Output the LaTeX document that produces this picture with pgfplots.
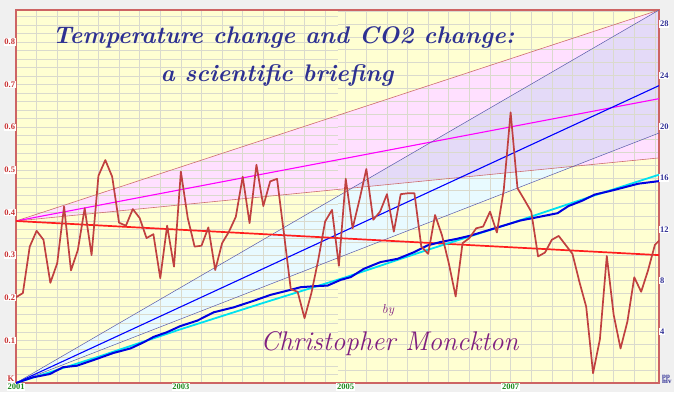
\documentclass[border=0pt]{standalone}
\usepackage{pgfplots}
\pgfplotsset{compat=1.18}
\usepackage{pgfplotstable}
\usepackage{fontspec}
\newfontfamily\tickfont{Liberation Serif}

\definecolor{bggray}{RGB}{240,240,240}
\definecolor{bgyellow}{RGB}{255,255,210}
\definecolor{pinkfill}{RGB}{255,224,255}
\definecolor{cyanfill}{RGB}{232,250,255}
\definecolor{lavfill}{RGB}{228,218,248}
\definecolor{framecol}{RGB}{205,100,100}
\definecolor{gridcol}{RGB}{218,218,205}
\definecolor{gridmaj}{RGB}{200,200,190}
\definecolor{tempcol}{RGB}{192,64,64}
\definecolor{redtrend}{RGB}{255,30,30}
\definecolor{pinkedge}{RGB}{205,110,110}
\definecolor{magentaL}{RGB}{255,0,255}
\definecolor{navythin}{RGB}{90,90,170}
\definecolor{bluemid}{RGB}{0,0,255}
\definecolor{bluedata}{RGB}{0,0,225}
\definecolor{cyanline}{RGB}{0,225,240}
\definecolor{titlecol}{RGB}{46,49,146}
\definecolor{purp}{RGB}{128,32,128}
\definecolor{ylab}{RGB}{200,50,50}
\definecolor{rlab}{RGB}{48,48,150}
\definecolor{xlab}{RGB}{30,140,30}

\pgfplotstableread{
i K
0 0.201
1 0.211
2 0.320
3 0.357
4 0.336
5 0.235
6 0.281
7 0.414
8 0.264
9 0.312
10 0.410
11 0.300
12 0.486
13 0.523
14 0.484
15 0.376
16 0.369
17 0.408
18 0.387
19 0.340
20 0.349
21 0.246
22 0.369
23 0.273
24 0.496
25 0.387
26 0.320
27 0.322
28 0.365
29 0.265
30 0.328
31 0.355
32 0.390
33 0.484
34 0.375
35 0.512
36 0.415
37 0.473
38 0.479
39 0.351
40 0.220
41 0.214
42 0.152
43 0.211
44 0.289
45 0.379
46 0.406
47 0.275
48 0.479
49 0.363
50 0.430
51 0.502
52 0.383
53 0.402
54 0.443
55 0.355
56 0.443
57 0.445
58 0.445
59 0.320
60 0.303
61 0.394
62 0.347
63 0.281
64 0.203
65 0.328
66 0.340
67 0.363
68 0.367
69 0.402
70 0.353
71 0.453
72 0.635
73 0.457
74 0.430
75 0.402
76 0.297
77 0.306
78 0.336
79 0.345
80 0.324
81 0.303
82 0.238
83 0.179
84 0.023
85 0.103
86 0.298
87 0.160
88 0.081
89 0.144
90 0.248
91 0.214
92 0.264
93 0.324
94 0.340
}\tempdata

\pgfplotstableread{
t p
2001.00 0.00
2001.21 0.45
2001.41 0.70
2001.57 1.23
2001.74 1.35
2001.98 1.88
2002.18 2.34
2002.39 2.70
2002.55 3.18
2002.67 3.60
2002.83 3.96
2002.99 4.43
2003.20 4.87
2003.40 5.52
2003.64 5.90
2003.89 6.43
2004.09 6.88
2004.29 7.20
2004.45 7.47
2004.61 7.55
2004.78 7.60
2004.94 8.05
2005.06 8.26
2005.22 8.91
2005.42 9.43
2005.63 9.69
2005.83 10.21
2005.99 10.73
2006.15 11.00
2006.35 11.25
2006.52 11.51
2006.72 11.90
2006.92 12.29
2007.12 12.68
2007.33 12.94
2007.57 13.25
2007.70 13.80
2007.86 14.20
2008.02 14.70
2008.22 15.00
2008.40 15.30
2008.55 15.55
2008.80 15.75
}\bluedat

\pgfplotstableread{
t p
2001.0 0.00
2002.0 2.05
2003.0 4.20
2004.0 6.25
2005.0 8.25
2006.0 10.40
2007.0 12.45
2008.0 14.60
2008.8 16.25
}\cyandat

\tikzset{tl/.style={font=\tickfont\bfseries\fontsize{8.5}{9}\selectfont, inner sep=0.8pt, fill=white}}
\pgfplotsset{
  base/.style={at={(16pt,9pt)}, anchor=south west, scale only axis,
    width=643pt, height=373pt, xmin=2001, xmax=2008.8, ymin=0, ymax=0.875},
}
\newcommand\titfont{\bfseries\itshape}

\begin{document}
\begin{tikzpicture}
\useasboundingbox (0,0) rectangle (674pt,392pt);
\fill[bggray] (0,0) rectangle (674pt,392pt);

% background and fills
\begin{axis}[base, axis background/.style={fill=bgyellow}, axis line style={draw=none},
  xtick=\empty, ytick=\empty]
\addplot[fill=pinkfill, draw=none] coordinates {(2001,0.38) (2008.8,0.875) (2008.8,0.528)};
\addplot[fill=cyanfill, draw=none, y filter/.expression={y*0.030069}]
  coordinates {(2001,0) (2008.8,29.1) (2008.8,19.5)};
\addplot[fill=lavfill, draw=none]
  coordinates {(2005.077,0.4574) (2007.763,0.5083) (2008.8,0.5863) (2008.8,0.875)};
\end{axis}

% vertical grid
\begin{axis}[base, axis line style={draw=none}, ytick=\empty,
  xtick={2001,2001.25,...,2008.76}, xticklabels={}, major tick length=0pt,
  xmajorgrids, major grid style={gridcol, line width=0.6pt}]
\addplot[draw=none] coordinates {(2001,0)};
\end{axis}

% left half horizontal grid (K)
\begin{axis}[at={(16pt,9pt)}, anchor=south west, scale only axis, width=321.5pt, height=373pt,
  xmin=0, xmax=1, ymin=0, ymax=0.875, axis line style={draw=none}, xtick=\empty,
  ytick={0,0.02,...,0.87}, yticklabels={}, major tick length=0pt,
  ymajorgrids, major grid style={gridcol, line width=0.6pt},
  extra y ticks={0.1,0.2,0.3,0.4,0.5,0.6,0.7,0.8}, extra y tick labels={},
  extra y tick style={grid style={gridmaj, line width=0.7pt}}]
\addplot[draw=none] coordinates {(0,0)};
\end{axis}

% right half horizontal grid (ppmv)
\begin{axis}[at={(337.5pt,9pt)}, anchor=south west, scale only axis, width=321.5pt, height=373pt,
  xmin=0, xmax=1, ymin=0, ymax=29.1, axis line style={draw=none}, xtick=\empty,
  ytick={0,1,...,29}, yticklabels={}, major tick length=0pt,
  ymajorgrids, major grid style={gridcol, line width=0.6pt},
  extra y ticks={4,8,12,16,20,24,28}, extra y tick labels={},
  extra y tick style={grid style={gridmaj, line width=0.7pt}}]
\addplot[draw=none] coordinates {(0,0)};
\end{axis}

% main axis with lines
\begin{axis}[base, axis line style={draw=framecol, line width=1.5pt},
  xtick={2001,2003,2005,2007}, xticklabels={2001,2003,2005,2007},
  ytick={0.1,0.2,0.3,0.4,0.5,0.6,0.7,0.8},
  yticklabels={0.1,0.2,0.3,0.4,0.5,0.6,0.7,0.8},
  major tick length=0pt, tick style={draw=none},
  xticklabel style={tl, text=xlab},
  yticklabel style={tl, text=ylab}]
\addplot[pinkedge, line width=0.6pt] coordinates {(2001,0.38) (2008.8,0.875)};
\addplot[pinkedge, line width=0.6pt] coordinates {(2001,0.38) (2008.8,0.528)};
\addplot[magentaL, line width=1.1pt] coordinates {(2001,0.38) (2008.8,0.667)};
\addplot[navythin, line width=0.5pt, y filter/.expression={y*0.030069}] coordinates {(2001,0) (2008.8,29.1)};
\addplot[navythin, line width=0.5pt, y filter/.expression={y*0.030069}] coordinates {(2001,0) (2008.8,19.5)};
\addplot[bluemid, line width=1.1pt, y filter/.expression={y*0.030069}] coordinates {(2001,0) (2008.8,23.2)};
\addplot[redtrend, line width=1.7pt] coordinates {(2001,0.38) (2008.8,0.30)};
\addplot[cyanline, line width=1.8pt] table[x=t, y expr=\thisrow{p}*0.030069] {\cyandat};
\addplot[bluedata, line width=2pt, line join=round] table[x=t, y expr=\thisrow{p}*0.030069] {\bluedat};
\addplot[tempcol, line width=1.7pt, line join=round] table[x expr=2001+\thisrow{i}/12, y=K] {\tempdata};
\end{axis}

% right axis (ppmv)
\begin{axis}[at={(16pt,9pt)}, anchor=south west, scale only axis, width=643pt, height=373pt,
  xmin=2001, xmax=2008.8, ymin=0, ymax=29.1,
  axis y line*=right, axis x line=none, axis line style={draw=none},
  ytick={4,8,12,16,20,24,28}, yticklabels={4,8,12,16,20,24,28},
  major tick length=0pt, tick style={draw=none},
  yticklabel style={tl, text=rlab}]
\addplot[draw=none] coordinates {(2001,0)};
\end{axis}

% corner unit labels
\node[tl, text=ylab, anchor=south east, inner sep=0.6pt] at (15pt,9.5pt) {K};
\node[anchor=south west, text=rlab, inner sep=0pt,
  font=\tickfont\bfseries\fontsize{7}{5.5}\selectfont, align=left] at (662pt,8pt) {pp\\mv};

% texts
\node[anchor=base, text=titlecol, font=\titfont\fontsize{24}{28}\selectfont] at (283.5pt,348.5pt)
  {Temperature change and CO2 change:};
\node[anchor=base, text=titlecol, font=\titfont\fontsize{24}{28}\selectfont] at (277pt,310.3pt)
  {a scientific briefing};
\node[anchor=base, text=purp, font=\itshape\fontsize{13}{15}\selectfont] at (388pt,78.7pt) {by};
\node[anchor=base, text=purp, font=\itshape\fontsize{27}{30}\selectfont] at (389.5pt,41.3pt)
  {Christopher Monckton};
\end{tikzpicture}
\end{document}
